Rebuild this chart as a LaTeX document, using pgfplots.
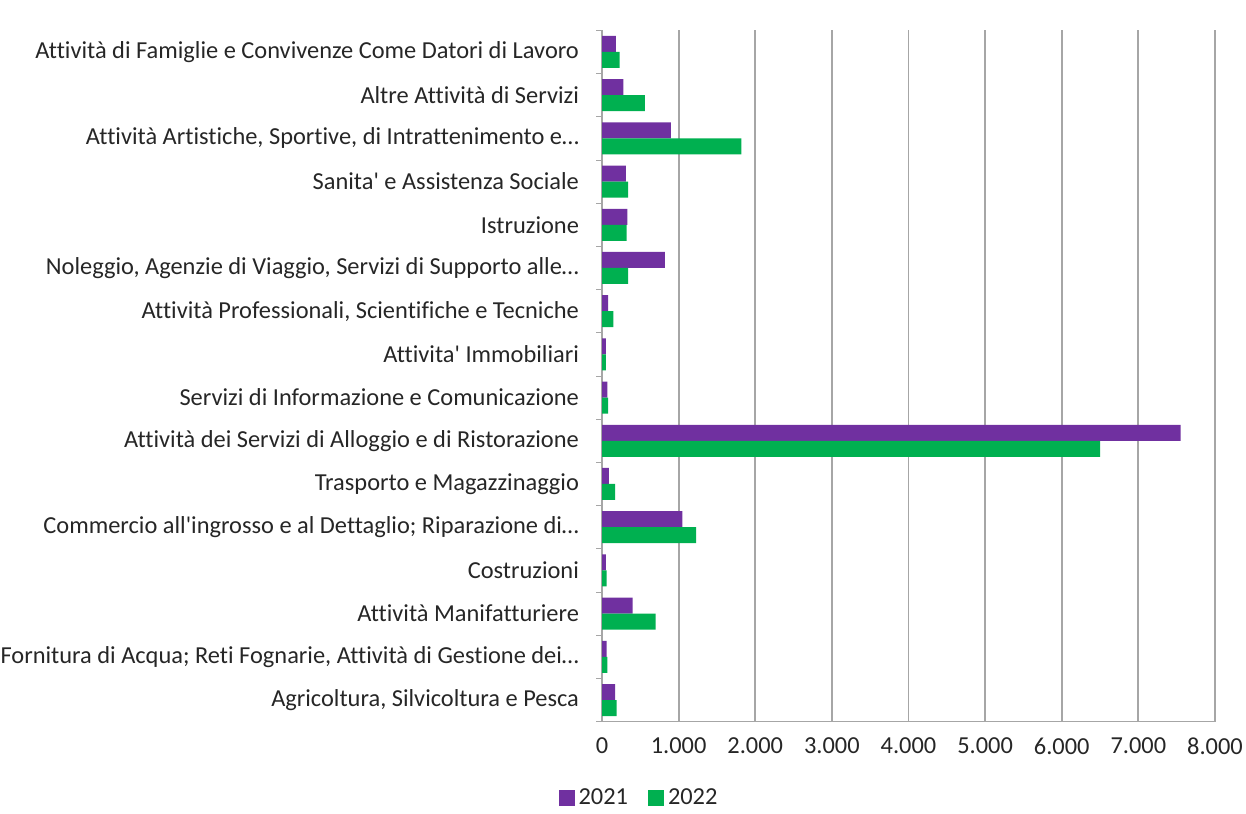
\documentclass[border=0pt]{standalone}
\usepackage{pgfplots}
\pgfplotsset{compat=1.18}
\usepackage{fontspec}
\setmainfont{Carlito}[Ligatures={NoCommon,TeXOff}]
\definecolor{cpurple}{HTML}{7030A0}
\definecolor{cgreen}{HTML}{00B050}
\definecolor{cgrid}{HTML}{A6A6A6}
\definecolor{ctext}{HTML}{262626}
\begin{document}
\begin{tikzpicture}
\useasboundingbox (0,0) rectangle (623pt,406.5pt);
\begin{axis}[
  at={(301pt,45.7pt)}, anchor=south west,
  scale only axis, width=306.5pt, height=345.6pt,
  xbar, bar width=8pt,
  xmin=0, xmax=8000, ymin=-0.5, ymax=15.5,
  xtick={0,1000,...,8000},
  ytick={0,...,15},
  yticklabels={
    {Agricoltura, Silvicoltura e Pesca},
    {Fornitura di Acqua; Reti Fognarie, Attività di Gestione dei…},
    {Attività Manifatturiere},
    {Costruzioni},
    {Commercio all'ingrosso e al Dettaglio; Riparazione di…},
    {Trasporto e Magazzinaggio},
    {Attività dei Servizi di Alloggio e di Ristorazione},
    {Servizi di Informazione e Comunicazione},
    {Attivita' Immobiliari},
    {Attività Professionali, Scientifiche e Tecniche},
    {Noleggio, Agenzie di Viaggio, Servizi di Supporto alle…},
    {Istruzione},
    {Sanita' e Assistenza Sociale},
    {Attività Artistiche, Sportive, di Intrattenimento e…},
    {Altre Attività di Servizi},
    {Attività di Famiglie e Convivenze Come Datori di Lavoro}},
  minor ytick={-0.5,0.5,...,15.5},
  major tick length=0pt,
  minor tick length=3pt,
  tick align=outside,
  every tick/.style={cgrid},
  axis x line*=bottom, axis y line*=left,
  axis line style={cgrid, line width=0.6pt},
  xmajorgrids, major grid style={cgrid, line width=0.9pt},
  /pgf/number format/.cd, 1000 sep={.}, assume math mode=true,
  /pgfplots/.cd,
  tick label style={font=\fontsize{12.2}{14}\selectfont, text=ctext},
  yticklabel style={xshift=-8pt},
  xticklabel style={yshift=-4.5pt},
  legend style={at={(0.062,-0.1105)}, anchor=center, draw=none, fill=none,
    legend columns=2, font=\fontsize{12.2}{14}\selectfont, text=ctext,
    /tikz/every even column/.append style={column sep=8pt}},
  legend image code/.code={\fill[#1] (0pt,-4pt) rectangle (8pt,4pt);},
  legend cell align=left,
]
\addplot[fill=cpurple, draw=none, bar shift=4pt] coordinates {
  (170,0) (60,1) (400,2) (50,3) (1050,4) (90,5) (7550,6) (70,7)
  (50,8) (80,9) (820,10) (330,11) (310,12) (900,13) (280,14) (180,15)};
\addlegendentry{2021}
\addplot[fill=cgreen, draw=none, bar shift=-4pt] coordinates {
  (190,0) (70,1) (700,2) (60,3) (1230,4) (170,5) (6500,6) (80,7)
  (50,8) (150,9) (340,10) (320,11) (340,12) (1820,13) (560,14) (230,15)};
\addlegendentry{2022}
\end{axis}
\end{tikzpicture}
\end{document}
